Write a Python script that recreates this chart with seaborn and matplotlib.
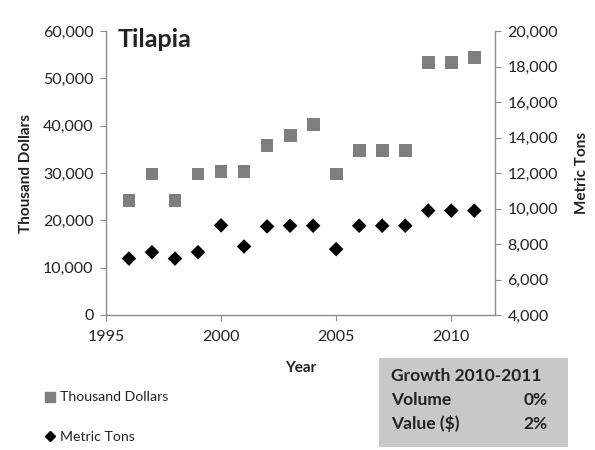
import matplotlib
matplotlib.use("Agg")
import matplotlib.pyplot as plt
import seaborn as sns
import pandas as pd
from matplotlib.lines import Line2D
from matplotlib.patches import Rectangle
from matplotlib.ticker import FuncFormatter

sns.set_style("white")
plt.rcParams['font.family'] = ['Lato', 'DejaVu Sans']

# ===== DATA =====
years = [1996, 1997, 1998, 1999, 2000, 2001, 2002, 2003, 2004, 2005, 2006, 2007, 2008, 2009, 2010, 2011]
thousand_dollars = [24200, 29800, 24200, 29800, 30300, 30300, 35900, 37900, 40200, 29800,
                    34700, 34700, 34700, 53300, 53300, 54400]
metric_tons = [7180, 7540, 7180, 7540, 9050, 7860, 8990, 9030, 9030, 7710,
               9030, 9030, 9030, 9880, 9880, 9880]
growth_rows = [("Volume", "0%"), ("Value ($)", "2%")]

df = pd.DataFrame({"Year": years, "Thousand Dollars": thousand_dollars, "Metric Tons": metric_tons})

sq_color = "#7f7f7f"
spine_color = "#8c8c8c"
txt_color = "#222222"

fig = plt.figure(figsize=(5.95, 4.5), dpi=100)
ax = fig.add_axes([0.178, 0.30, 0.654, 0.631])
ax2 = ax.twinx()

sns.scatterplot(data=df, x="Year", y="Thousand Dollars", ax=ax, marker="s", s=85,
                color=sq_color, edgecolor="none", legend=False, zorder=3)
sns.scatterplot(data=df, x="Year", y="Metric Tons", ax=ax2, marker="D", s=55,
                color="black", edgecolor="none", legend=False, zorder=3)

ax.set_xlim(1995, 2011.9)
ax.set_ylim(0, 60000)
ax2.set_ylim(4000, 20000)
ax.set_xticks([1995, 2000, 2005, 2010])
ax.set_yticks(range(0, 60001, 10000))
ax2.set_yticks(range(4000, 20001, 2000))
fmt = FuncFormatter(lambda v, p: f"{int(v):,}")
ax.yaxis.set_major_formatter(fmt)
ax2.yaxis.set_major_formatter(fmt)

for a in (ax, ax2):
    for s in a.spines.values():
        s.set_visible(False)
ax.spines['left'].set_visible(True)
ax.spines['bottom'].set_visible(True)
ax2.spines['right'].set_visible(True)
for s in (ax.spines['left'], ax.spines['bottom'], ax2.spines['right']):
    s.set_color(spine_color)
    s.set_linewidth(1.0)

ax.tick_params(axis='y', direction='out', length=4, color=spine_color, labelsize=11.5,
               labelcolor=txt_color, left=True, pad=5)
ax.tick_params(axis='x', direction='out', length=4, color=spine_color, labelsize=11.5,
               labelcolor=txt_color, bottom=True, pad=7)
ax2.tick_params(axis='y', direction='out', length=4, color=spine_color, labelsize=11.5,
                labelcolor=txt_color, right=True, pad=5)

ax.set_xlabel("Year", fontsize=11, fontweight='bold', color=txt_color, labelpad=12)
ax.set_ylabel("Thousand Dollars", fontsize=11, fontweight='bold', color=txt_color, labelpad=7)
ax2.set_ylabel("Metric Tons", fontsize=11, fontweight='bold', color=txt_color, labelpad=12)

ax.text(0.03, 1.01, "Tilapia", transform=ax.transAxes, fontsize=18, fontweight='bold',
        color=txt_color, va='top', ha='left')

# legend at bottom left
handles = [Line2D([], [], marker='s', linestyle='none', color=sq_color, markersize=7),
           Line2D([], [], marker='D', linestyle='none', color='black', markersize=5.5)]
fig.legend(handles, ["Thousand Dollars", "Metric Tons"], loc='lower left',
           bbox_to_anchor=(0.055, -0.013), frameon=False, fontsize=10.2, labelspacing=1.95,
           handlelength=0.6, handletextpad=0.4, labelcolor=txt_color)

# growth box
fig.patches.append(Rectangle((0.637, 0.007), 0.318, 0.198, transform=fig.transFigure,
                             facecolor="#c8c8c8", edgecolor="none", zorder=0))
fig.text(0.657, 1 - 376 / 450, "Growth 2010-2011", fontsize=12.5, fontweight='bold',
         color=txt_color, va='center')
for i, (lab, val) in enumerate(growth_rows):
    y = 1 - (400 + i * 24) / 450
    fig.text(0.657, y, lab, fontsize=12.5, fontweight='bold', color=txt_color, va='center')
    fig.text(0.92, y, val, fontsize=12.5, fontweight='bold', color=txt_color, va='center', ha='right')

fig.savefig("out.png", dpi=100)
plt.close(fig)
